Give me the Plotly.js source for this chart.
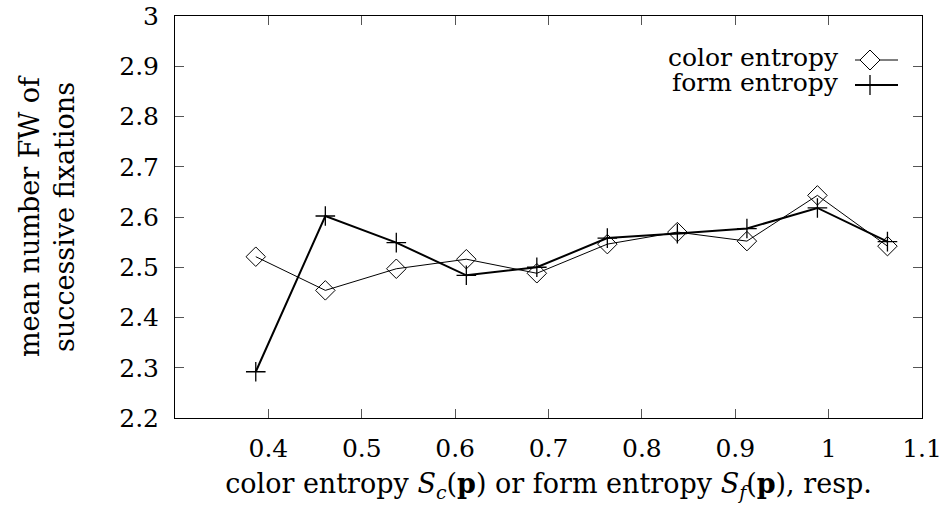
<!DOCTYPE html>
<html>
<head>
<meta charset="utf-8">
<script src="https://cdn.plot.ly/plotly-3.0.1.min.js"></script>
<style>html,body{margin:0;padding:0;background:#fff;}#chart{width:946px;height:512px;}</style>
</head>
<body>
<div id="chart"></div>
<script>
// Data
const entropy = [0.3865, 0.461, 0.537, 0.612, 0.6875, 0.763, 0.838, 0.9125, 0.988, 1.063];
const colorFW = [2.521, 2.454, 2.497, 2.516, 2.488, 2.546, 2.570, 2.552, 2.643, 2.542];
const formFW  = [2.292, 2.602, 2.549, 2.484, 2.500, 2.558, 2.567, 2.577, 2.618, 2.551];
const xTicks = [0.4, 0.5, 0.6, 0.7, 0.8, 0.9, 1, 1.1];
const xTickText = ['0.4', '0.5', '0.6', '0.7', '0.8', '0.9', '1', '1.1'];
const yTicks = [2.2, 2.3, 2.4, 2.5, 2.6, 2.7, 2.8, 2.9, 3];
const yTickText = ['2.2', '2.3', '2.4', '2.5', '2.6', '2.7', '2.8', '2.9', '3'];
const seriesNames = ['color entropy', 'form entropy'];

const FONT = 'DejaVu Serif';
const FS = 25;      // tick labels and legend
const FT = 27;      // axis titles
const L = 175, R = 922, T = 16, B = 418;
const W = 946, H = 512;
function px(x) { return (x - L) / (R - L); }
function py(y) { return (B - y) / (B - T); }

const traces = [
  {
    x: entropy, y: colorFW, name: seriesNames[0], type: 'scatter', mode: 'lines+markers',
    line: {color: '#000', width: 1},
    marker: {symbol: 'diamond-open', size: 15, color: '#000', line: {width: 1, color: '#000'}},
    showlegend: false
  },
  {
    x: entropy, y: formFW, name: seriesNames[1], type: 'scatter', mode: 'lines+markers',
    line: {color: '#000', width: 2},
    marker: {symbol: 'cross-thin-open', size: 14, color: '#000', line: {width: 1.3, color: '#000'}},
    showlegend: false
  }
];

// Manual legend (text left of sample, as in reference)
const legY = [60, 85];
const sampX0 = 855, sampX1 = 898, sampXc = 870;
const shapes = [];
const annotations = [];
seriesNames.forEach((nm, i) => {
  annotations.push({
    xref: 'paper', yref: 'paper', x: px(841), y: py(legY[i] - 2), xanchor: 'right', yanchor: 'middle',
    text: nm, showarrow: false, font: {family: FONT, size: FS, color: '#000'}
  });
  shapes.push({type: 'line', xref: 'paper', yref: 'paper',
    x0: px(sampX0), x1: px(sampX1), y0: py(legY[i]), y1: py(legY[i]),
    line: {color: '#000', width: i === 0 ? 1 : 2}});
});
(function(){
  const cx = sampXc, cy = legY[0], r = 10;
  const p = (a, b) => px(a).toFixed(5) + ',' + py(b).toFixed(5);
  shapes.push({type: 'path', xref: 'paper', yref: 'paper',
    path: 'M' + p(cx, cy - r) + ' L' + p(cx + r, cy) + ' L' + p(cx, cy + r) + ' L' + p(cx - r, cy) + ' Z',
    fillcolor: '#fff', line: {color: '#000', width: 1}});
  const r2 = 10, cy2 = legY[1];
  shapes.push({type: 'line', xref: 'paper', yref: 'paper', x0: px(cx), x1: px(cx), y0: py(cy2 - r2), y1: py(cy2 + r2),
    line: {color: '#000', width: 1.3}});
  shapes.push({type: 'line', xref: 'paper', yref: 'paper', x0: px(cx - r2), x1: px(cx + r2), y0: py(cy2), y1: py(cy2),
    line: {color: '#000', width: 1.3}});
})();

const layout = {
  width: W, height: H,
  margin: {l: L, r: W - R, t: T, b: H - B},
  paper_bgcolor: '#fff', plot_bgcolor: '#fff',
  font: {family: FONT, size: FS, color: '#000'},
  showlegend: false,
  xaxis: {
    range: [0.3, 1.1], tickvals: xTicks, ticktext: xTickText,
    ticks: 'inside', ticklen: 9, tickwidth: 1, tickcolor: '#555',
    showline: true, linecolor: '#000', linewidth: 1, mirror: 'allticks',
    showgrid: false, zeroline: false,
    tickfont: {family: FONT, size: FS, color: '#000'}, ticklabelstandoff: 8,
    title: {text: 'color entropy <i>S</i><sub><i>c</i></sub>(<b>p</b>) or form entropy <i>S</i><sub><i>f</i></sub>(<b>p</b>), resp.',
            font: {family: FONT, size: FT, color: '#000'}, standoff: 12}
  },
  yaxis: {
    range: [2.2, 3], tickvals: yTicks, ticktext: yTickText,
    ticks: 'inside', ticklen: 9, tickwidth: 1, tickcolor: '#555',
    showline: true, linecolor: '#000', linewidth: 1, mirror: 'allticks',
    showgrid: false, zeroline: false,
    tickfont: {family: FONT, size: FS, color: '#000'}, ticklabelstandoff: 10,
    title: {text: 'mean number FW of<br>successive fixations', font: {family: FONT, size: FT, color: '#000'}, standoff: 36}
  },
  shapes: shapes,
  annotations: annotations
};

Plotly.newPlot('chart', traces, layout, {displayModeBar: false, staticPlot: true});
</script>
</body>
</html>
